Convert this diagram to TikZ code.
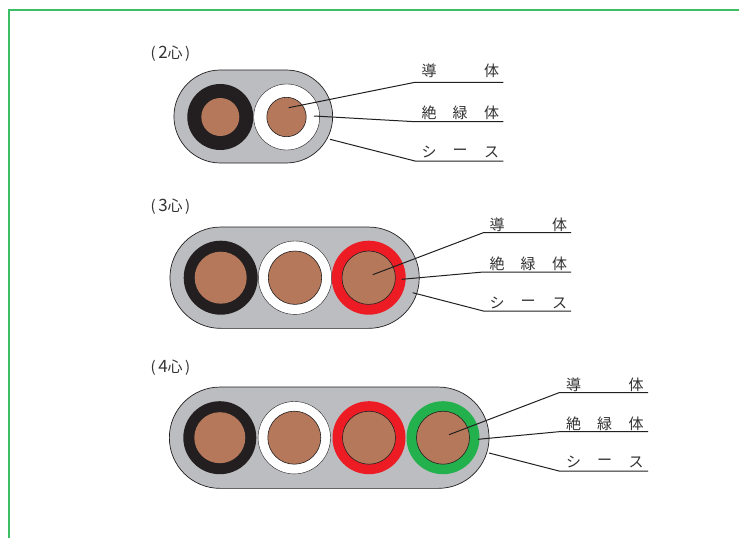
\documentclass[tikz,border=0pt]{standalone}
\usepackage{fontspec}
\setmainfont{Noto Sans CJK JP}
\usetikzlibrary{shapes.misc}
\definecolor{frameg}{RGB}{60,190,100}
\definecolor{sheath}{RGB}{187,189,192}
\definecolor{cu}{RGB}{181,120,91}
\definecolor{blk}{RGB}{35,31,32}
\definecolor{redc}{RGB}{237,28,36}
\definecolor{grn}{RGB}{34,177,76}
\newcommand{\bigdig}[1]{{\fontsize{17pt}{16pt}\selectfont #1}}
\tikzset{
 sheathbox/.style={draw=blk,line width=0.7pt,fill=sheath,rounded rectangle,inner sep=0pt,outer sep=0pt},
 ins/.style={circle,inner sep=0pt,outer sep=0pt},
 core/.style={circle,inner sep=0pt,outer sep=0pt,fill=cu},
 lead/.style={draw=blk,line width=1pt},
 lab/.style={inner sep=0pt,font=\fontsize{15pt}{16pt}\selectfont,text=black!80},
 ttl/.style={inner sep=0pt,font=\fontsize{15pt}{16pt}\selectfont,text=black!80},
}
\begin{document}
\begin{tikzpicture}[x=1pt,y=-1pt]
\useasboundingbox (0,0) rectangle (739,538);
\fill[white] (0,0) rectangle (739,538);
\draw[frameg,line width=2.5pt] (9.2,538) -- (9.2,10) -- (739,10);
% 2 core
\node[ttl] (t2) at (170.5,53.5) {(\,\bigdig{2}心\,)};
\node[sheathbox,minimum width=158.7pt,minimum height=93pt] (s2) at (253.3,116.5) {};
\node[ins,fill=blk,minimum size=66pt] (a2) at (220.3,117) {};
\node[core,minimum size=38pt] (ac2) at (220.3,117) {};
\node[ins,fill=white,draw=blk,line width=0.4pt,minimum size=66pt] (b2) at (286.7,117) {};
\node[core,draw=blk,line width=0.6pt,minimum size=39.4pt] (bc2) at (286.5,117) {};
\coordinate (p21) at (288.7,107.7);\coordinate (q21) at (415,82.3);\coordinate (r21) at (503.3,82.3);
\coordinate (p22) at (314,116);\coordinate (q22) at (415,121.7);\coordinate (r22) at (503.3,121.7);
\coordinate (p23) at (330,139.3);\coordinate (q23) at (415,161);\coordinate (r23) at (503.3,161);
\draw[lead] (p21)--(q21)--(r21);\draw[lead] (p22)--(q22)--(r22);\draw[lead] (p23)--(q23)--(r23);
\node[lab] (l211) at (429,71) {導};\node[lab] (l212) at (491.7,71) {体};
\node[lab] (l221) at (429,113) {絶};\node[lab] (l222) at (460,113) {緑};\node[lab] (l223) at (491.7,113) {体};
\node[lab] (l231) at (429,152) {シ};\node[lab] (l232) at (460,152) {ー};\node[lab] (l233) at (491.7,152) {ス};
% 3 core
\node[ttl] (t3) at (170.5,206.5) {(\,\bigdig{3}心\,)};
\node[sheathbox,minimum width=249.3pt,minimum height=101.3pt] (s3) at (294.6,277.7) {};
\node[ins,fill=blk,minimum size=74pt] (a3) at (220.7,277.7) {};
\node[core,minimum size=52pt] (ac3) at (220.7,277.7) {};
\node[ins,fill=white,draw=blk,line width=0.4pt,minimum size=73.4pt] (b3) at (295,277.7) {};
\node[core,draw=blk,line width=0.6pt,minimum size=53.4pt] (bc3) at (295,277.7) {};
\node[ins,fill=redc,minimum size=74pt] (c3) at (368.7,277.7) {};
\node[core,draw=blk,line width=0.6pt,minimum size=53.4pt] (cc3) at (368.7,277.7) {};
\coordinate (p31) at (372.7,274.7);\coordinate (q31) at (483.3,232.7);\coordinate (r31) at (571,232.7);
\coordinate (p32) at (401.7,279.3);\coordinate (q32) at (483.3,272);\coordinate (r32) at (571,272);
\coordinate (p33) at (412.7,292.7);\coordinate (q33) at (483.3,311);\coordinate (r33) at (571,311);
\draw[lead] (p31)--(q31)--(r31);\draw[lead] (p32)--(q32)--(r32);\draw[lead] (p33)--(q33)--(r33);
\node[lab] (l311) at (497,225) {導};\node[lab] (l312) at (559.5,225) {体};
\node[lab] (l321) at (497,264) {絶};\node[lab] (l322) at (528,264) {緑};\node[lab] (l323) at (559.5,264) {体};
\node[lab] (l331) at (497,303) {シ};\node[lab] (l332) at (528,303) {ー};\node[lab] (l333) at (559.5,303) {ス};
% 4 core
\node[ttl] (t4) at (170.5,367.5) {(\,\bigdig{4}心\,)};
\node[sheathbox,minimum width=319.7pt,minimum height=101.3pt] (s4) at (329.2,437.7) {};
\node[ins,fill=blk,minimum size=73pt] (a4) at (219.8,437.7) {};
\node[core,minimum size=51pt] (ac4) at (219.8,437.7) {};
\node[ins,fill=white,draw=blk,line width=0.4pt,minimum size=72.4pt] (b4) at (294.3,437.7) {};
\node[core,draw=blk,line width=0.6pt,minimum size=53pt] (bc4) at (294.3,437.7) {};
\node[ins,fill=redc,minimum size=73pt] (c4) at (369,437.7) {};
\node[core,draw=blk,line width=0.6pt,minimum size=53pt] (cc4) at (369,437.7) {};
\node[ins,fill=grn,minimum size=73pt] (d4) at (443,437.7) {};
\node[core,draw=blk,line width=0.6pt,minimum size=53pt] (dc4) at (443,437.7) {};
\coordinate (p41) at (449,434.7);\coordinate (q41) at (559,392.7);\coordinate (r41) at (648,392.7);
\coordinate (p42) at (478,439.3);\coordinate (q42) at (559,431.7);\coordinate (r42) at (648,431.7);
\coordinate (p43) at (489,453);\coordinate (q43) at (559,471);\coordinate (r43) at (648,471);
\draw[lead] (p41)--(q41)--(r41);\draw[lead] (p42)--(q42)--(r42);\draw[lead] (p43)--(q43)--(r43);
\node[lab] (l411) at (573.5,385) {導};\node[lab] (l412) at (636,385) {体};
\node[lab] (l421) at (573.5,423.5) {絶};\node[lab] (l422) at (604.5,423.5) {緑};\node[lab] (l423) at (636,423.5) {体};
\node[lab] (l431) at (573.5,462) {シ};\node[lab] (l432) at (604.5,462) {ー};\node[lab] (l433) at (636,462) {ス};
\end{tikzpicture}
\end{document}
